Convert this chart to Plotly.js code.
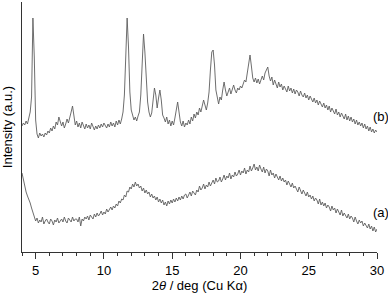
<!DOCTYPE html>
<html>
<head>
<meta charset="utf-8">
<script src="https://cdn.plot.ly/plotly-3.0.1.min.js"></script>
<style>html,body{margin:0;padding:0;background:#fff;}#chart{width:388px;height:296px;}</style>
</head>
<body>
<div id="chart"></div>
<script>
// 2theta grid (deg), step 0.1
const twoTheta = [4.0,4.1,4.2,4.3,4.4,4.5,4.6,4.7,4.8,4.9,5.0,5.1,5.2,5.3,5.4,5.5,5.6,5.7,5.8,5.9,6.0,6.1,6.2,6.3,6.4,6.5,6.6,6.7,6.8,6.9,7.0,7.1,7.2,7.3,7.4,7.5,7.6,7.7,7.8,7.9,8.0,8.1,8.2,8.3,8.4,8.5,8.6,8.7,8.8,8.9,9.0,9.1,9.2,9.3,9.4,9.5,9.6,9.7,9.8,9.9,10.0,10.1,10.2,10.3,10.4,10.5,10.6,10.7,10.8,10.9,11.0,11.1,11.2,11.3,11.4,11.5,11.6,11.7,11.8,11.9,12.0,12.1,12.2,12.3,12.4,12.5,12.6,12.7,12.8,12.9,13.0,13.1,13.2,13.3,13.4,13.5,13.6,13.7,13.8,13.9,14.0,14.1,14.2,14.3,14.4,14.5,14.6,14.7,14.8,14.9,15.0,15.1,15.2,15.3,15.4,15.5,15.6,15.7,15.8,15.9,16.0,16.1,16.2,16.3,16.4,16.5,16.6,16.7,16.8,16.9,17.0,17.1,17.2,17.3,17.4,17.5,17.6,17.7,17.8,17.9,18.0,18.1,18.2,18.3,18.4,18.5,18.6,18.7,18.8,18.9,19.0,19.1,19.2,19.3,19.4,19.5,19.6,19.7,19.8,19.9,20.0,20.1,20.2,20.3,20.4,20.5,20.6,20.7,20.8,20.9,21.0,21.1,21.2,21.3,21.4,21.5,21.6,21.7,21.8,21.9,22.0,22.1,22.2,22.3,22.4,22.5,22.6,22.7,22.8,22.9,23.0,23.1,23.2,23.3,23.4,23.5,23.6,23.7,23.8,23.9,24.0,24.1,24.2,24.3,24.4,24.5,24.6,24.7,24.8,24.9,25.0,25.1,25.2,25.3,25.4,25.5,25.6,25.7,25.8,25.9,26.0,26.1,26.2,26.3,26.4,26.5,26.6,26.7,26.8,26.9,27.0,27.1,27.2,27.3,27.4,27.5,27.6,27.7,27.8,27.9,28.0,28.1,28.2,28.3,28.4,28.5,28.6,28.7,28.8,28.9,29.0,29.1,29.2,29.3,29.4,29.5,29.6,29.7,29.8,29.9,30.0];

// pattern (a), arbitrary units (stacked position)
const intensityA = [79,72,65,60,56,53,49,44,39,34,
31,34,29,32,30,35,28,31,33,30, 28,33,31,27,32,30,34,29,31,33, 30,35,31,29,34,32,30,35,31,33,
33,30,35,26,33,31,35,33,36,32, 37,35,33,38,35,39,36,38,41,37, 40,38,43,40,42,45,42,46,44,48, 46,51,49,53,52,57,55,61,60,65,
63,68,65,70,66,68,64,66,61,64, 59,62,58,60,55,58,54,56,52,55, 50,53,49,52,47,50,46,51,48,52, 49,53,50,54,51,55,52,56,53,57,
58,54,57,60,56,61,59,57,62,60, 66,62,64,68,63,67,65,70,66,69, 72,68,74,70,71,75,70,73,77,72, 76,74,79,73,77,75,80,76,78,82,
77,81,79,84,78,82,80,86,81,84, 88,82,85,81,87,83,80,85,79,83, 81,76,82,77,79,74,78,75,72,76, 71,74,70,72,67,71,68,65,69,64,
66,63,60,65,61,58,62,59,56,60, 55,57,53,56,51,54,52,48,53,47, 50,46,49,44,47,45,41,46,42,44, 39,43,40,37,42,36,39,37,34,38,
33,36,34,30,35,31,28,32,29,31, 26,29,27,24,28,23,26,21,25,20,23];

// pattern (b), arbitrary units (stacked position)
const intensityB = [126,129,127,131,128,134,140,155,234,195,132,118,114,119,116,118,115,119,117,121,119,124,121,126,123,130,127,135,131,126,130,124,128,133,129,136,140,146,134,127,131,125,129,124,130,126,123,128,124,127,123,129,125,122,126,123,127,124,128,125,129,126,124,128,125,130,126,129,125,131,127,132,128,133,140,157,190,234,205,160,142,137,132,135,131,136,140,157,185,218,200,172,150,140,135,139,152,164,157,144,154,162,152,137,134,130,135,128,132,126,131,127,134,144,150,140,130,126,131,125,129,127,132,128,135,131,138,134,140,137,144,140,148,152,147,142,149,160,182,200,202,187,162,154,148,155,152,162,170,162,156,160,164,158,162,167,162,159,164,162,166,164,168,172,170,180,192,197,186,174,170,174,169,173,168,172,176,172,179,182,
185,176,171,175,167,172,168,164,170,165, 168,162,166,163,160,166,161,164,159,163, 158,162,160,156,161,157,155,159,154,157, 152,156,153,150,154,149,152,147,151,148,
145,149,144,147,142,146,140,144,141,138, 143,137,140,135,139,136,133,138,132,136, 131,135,130,133,128,132,127,130,126,129, 124,128,123,126,121,125,120,123,119,122,120];

const seriesLabels = ["(a)", "(b)"];
const xTickVals = [5, 10, 15, 20, 25, 30];
const xTickText = ["5", "10", "15", "20", "25", "30"];

const lineStyle = {color: '#5e5e5e', width: 0.9};
const traces = [
  {x: twoTheta, y: intensityA, type: 'scatter', mode: 'lines', line: lineStyle, name: seriesLabels[0], showlegend: false, hoverinfo: 'skip'},
  {x: twoTheta, y: intensityB, type: 'scatter', mode: 'lines', line: lineStyle, name: seriesLabels[1], showlegend: false, hoverinfo: 'skip'}
];

const font = {family: '"Liberation Sans", Arial, sans-serif', size: 13, color: '#000'};

const layout = {
  width: 388, height: 296,
  margin: {l: 22, r: 11, t: 2, b: 44},
  paper_bgcolor: '#fff', plot_bgcolor: '#fff',
  font: font,
  showlegend: false,
  xaxis: {
    range: [4, 30], showgrid: false, zeroline: false,
    showline: true, linecolor: '#333', linewidth: 1,
    ticks: 'outside', ticklen: 6, tickwidth: 1, tickcolor: '#333',
    tickvals: xTickVals, ticktext: xTickText,
    minor: {dtick: 1, ticks: 'outside', ticklen: 3, tickcolor: '#333', tickwidth: 1, showgrid: false},
    tickfont: font,
    title: {text: '2<i>θ</i> / deg (Cu Kα)', font: font, standoff: 4},
    automargin: false
  },
  yaxis: {
    range: [0, 250], showgrid: false, zeroline: false,
    showline: true, linecolor: '#333', linewidth: 1,
    ticks: '', showticklabels: false,
    title: {text: 'Intensity (a.u.)', font: font, standoff: 6},
    automargin: false
  },
  annotations: [
    {x: 29.55, y: 40, xref: 'x', yref: 'y', text: seriesLabels[0], showarrow: false, xanchor: 'left', yanchor: 'middle', font: font},
    {x: 29.55, y: 136, xref: 'x', yref: 'y', text: seriesLabels[1], showarrow: false, xanchor: 'left', yanchor: 'middle', font: font}
  ]
};

Plotly.newPlot('chart', traces, layout, {staticPlot: true, displayModeBar: false});
</script>
</body>
</html>
